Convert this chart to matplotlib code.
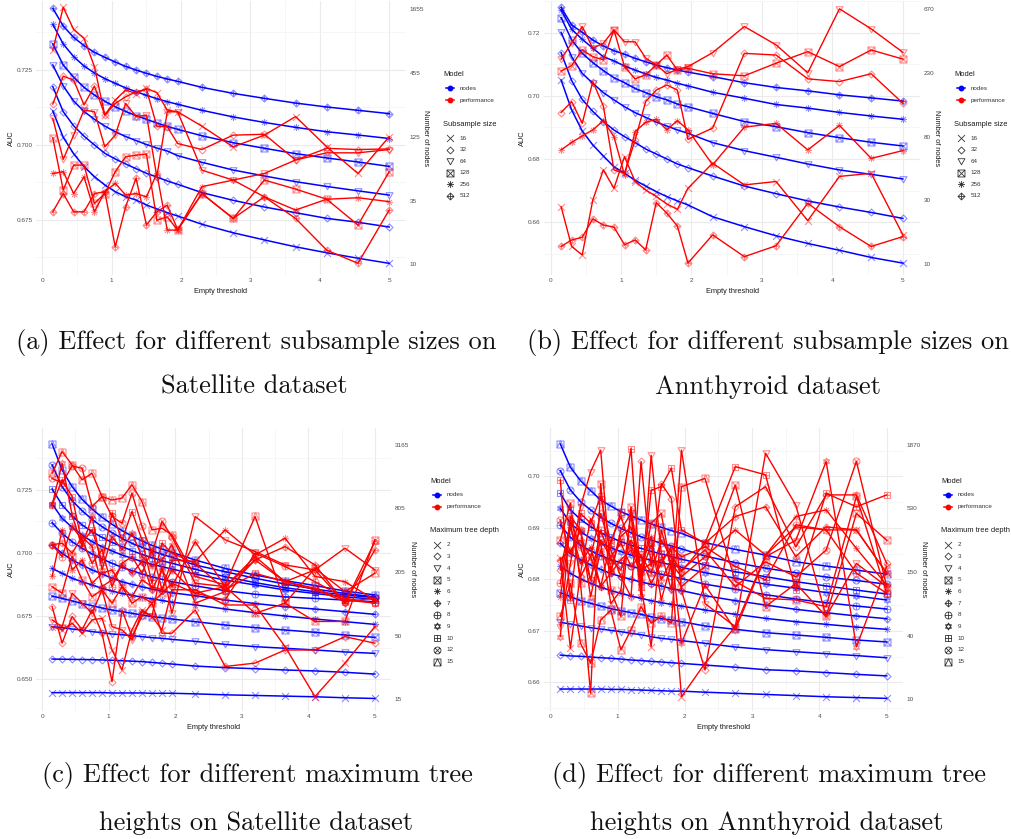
import numpy as np
import matplotlib.pyplot as plt
from matplotlib.path import Path
from matplotlib.ticker import NullLocator, NullFormatter

plt.rcParams['font.family'] = ['Liberation Sans', 'DejaVu Sans']

# x axis: empty threshold, shared by all four panels
thresholds = [0.15, 0.30, 0.45, 0.60, 0.75, 0.90, 1.05, 1.20, 1.35, 1.50,
              1.65, 1.80, 1.95, 2.30, 2.75, 3.20, 3.65, 4.10, 4.55, 5.00]

subsample_sizes = ["16", "32", "64", "128", "256", "512"]
tree_depths = ["2", "3", "4", "5", "6", "7", "8", "9", "10", "12", "15"]

# (a) Satellite, subsample size -- rows follow subsample_sizes
sat_sub_nodes = [
    [215, 127, 91.6, 70.6, 57.8, 48.9, 42.8, 38.7, 36.2, 32.8, 30.3, 28.1, 26.3, 22.3, 18.8, 16.3, 14.2, 12.6, 11.3, 10.2],
    [350, 212, 160, 130, 109, 92.2, 82.3, 74.5, 67.8, 61.8, 57.4, 53.0, 49.6, 42.0, 36.0, 31.5, 28.1, 25.1, 23.2, 21.1],
    [540, 355, 263, 213, 182, 159, 142, 129, 119, 110, 102.5, 96.6, 88.0, 77.0, 66.0, 58.6, 52.3, 47.5, 43.5, 40.0],
    [822, 540, 422, 345, 296, 261, 234, 213, 196, 182, 169, 158, 149, 131, 114, 102, 91.6, 84.0, 77.5, 71.0],
    [1218, 822, 638, 529, 460, 411, 374, 341, 317, 294, 275, 259, 246, 218, 191, 171, 155, 142, 133, 124],
    [1677, 1178, 939, 795, 695, 629, 573, 525, 488, 457, 430, 408, 389, 345, 306, 277, 252, 233, 218, 204],
]
sat_sub_auc = [
    [0.7316, 0.7459, 0.7385, 0.7355, 0.7261, 0.7099, 0.7149, 0.7183, 0.7171, 0.7188, 0.7174, 0.7116, 0.7110, 0.7062, 0.6993, 0.7032, 0.7094, 0.6993, 0.6904, 0.7027],
    [0.7136, 0.7229, 0.7216, 0.7133, 0.7196, 0.7099, 0.7138, 0.7160, 0.7177, 0.7185, 0.7062, 0.7060, 0.7004, 0.6984, 0.7032, 0.7035, 0.6949, 0.6988, 0.6984, 0.6986],
    [0.7088, 0.6951, 0.7032, 0.7116, 0.7110, 0.6993, 0.7032, 0.7138, 0.7094, 0.7099, 0.6893, 0.7110, 0.7110, 0.6915, 0.6882, 0.6904, 0.6949, 0.6973, 0.6973, 0.6984],
    [0.7023, 0.6849, 0.6932, 0.6932, 0.6804, 0.6837, 0.6910, 0.6960, 0.6965, 0.6969, 0.6748, 0.6759, 0.6715, 0.6837, 0.6754, 0.6882, 0.6852, 0.6818, 0.6732, 0.6910],
    [0.6904, 0.6910, 0.6837, 0.6893, 0.6776, 0.6843, 0.6871, 0.6832, 0.6837, 0.6826, 0.6904, 0.6715, 0.6715, 0.6860, 0.6882, 0.6826, 0.6782, 0.6818, 0.6823, 0.6810],
    [0.6776, 0.6837, 0.6776, 0.6776, 0.6837, 0.6843, 0.6659, 0.6793, 0.6888, 0.6732, 0.6776, 0.6798, 0.6717, 0.6837, 0.6754, 0.6826, 0.6754, 0.6648, 0.6604, 0.6782],
]

# (b) Annthyroid, subsample size
ann_sub_nodes = [
    [208, 127, 89.9, 71.4, 59.5, 49.9, 44.8, 39.9, 36.3, 33.1, 30.5, 28.4, 26.6, 21.9, 18.6, 16.0, 14.1, 12.6, 11.2, 10.2],
    [326, 206, 151, 124, 105, 91.4, 81.9, 74.2, 66.8, 61.5, 56.7, 52.2, 49.1, 42.8, 36.3, 32.0, 28.4, 25.7, 23.5, 21.3],
    [456, 305, 232, 197, 169, 150, 134, 121.5, 112.5, 104, 97.6, 91.4, 86.5, 74.2, 65.0, 58.3, 52.2, 47.3, 44.0, 40.8],
    [581, 402, 323, 277, 243, 216, 199, 181, 169, 158, 150, 140, 134, 120, 105, 96.5, 87.4, 80.5, 74.6, 70.2],
    [659, 479, 407, 351, 305, 285, 262, 245, 230, 217, 208, 197, 189, 170, 154, 139, 131, 122, 115, 109],
    [689, 515, 456, 402, 364, 337, 318, 297, 281, 266, 255, 245, 237, 220, 199, 184, 174, 163, 155, 147],
]
ann_sub_auc = [
    [0.6634, 0.6517, 0.6492, 0.6654, 0.6742, 0.6688, 0.6781, 0.6708, 0.6683, 0.6664, 0.6642, 0.6626, 0.6688, 0.6762, 0.6698, 0.6708, 0.6593, 0.6723, 0.6732, 0.6551],
    [0.6911, 0.6943, 0.6879, 0.7002, 0.6930, 0.6742, 0.6732, 0.6830, 0.6943, 0.6977, 0.6992, 0.6977, 0.6832, 0.6865, 0.7085, 0.7080, 0.7010, 0.7002, 0.7025, 0.6938],
    [0.7068, 0.7115, 0.7164, 0.7100, 0.7115, 0.7154, 0.7119, 0.7119, 0.7071, 0.7051, 0.7025, 0.7038, 0.7046, 0.7087, 0.7164, 0.7110, 0.7028, 0.7216, 0.7157, 0.7088],
    [0.7033, 0.7049, 0.7095, 0.7075, 0.7066, 0.7154, 0.7046, 0.7010, 0.7022, 0.7051, 0.7080, 0.7036, 0.7041, 0.7025, 0.7019, 0.7056, 0.7090, 0.7046, 0.7095, 0.7068],
    [0.6801, 0.6823, 0.6842, 0.6860, 0.6887, 0.6840, 0.6727, 0.6855, 0.6882, 0.6891, 0.6860, 0.6887, 0.6860, 0.6757, 0.6868, 0.6879, 0.6801, 0.6873, 0.6776, 0.6799],
    [0.6517, 0.6536, 0.6544, 0.6598, 0.6580, 0.6574, 0.6522, 0.6536, 0.6507, 0.6646, 0.6615, 0.6577, 0.6468, 0.6551, 0.6487, 0.6519, 0.6644, 0.6575, 0.6517, 0.6546],
]

# (c) Satellite, maximum tree depth -- rows follow tree_depths
sat_depth_nodes = [
    [15.3, 15.3, 15.3, 15.3, 15.3, 15.3, 15.2, 15.2, 15.2, 15.2, 15.1, 15.1, 15.1, 14.9, 14.6, 14.4, 14.2, 14.0, 13.7, 13.5],
    [31.5, 31.4, 31.3, 31.2, 31.1, 30.9, 30.7, 30.4, 30.1, 29.8, 29.3, 28.8, 28.3, 27.1, 26.2, 25.6, 24.9, 24.4, 23.7, 22.8],
    [63.2, 61.9, 60.1, 58.8, 56.8, 55.6, 54.0, 53.2, 52.1, 51.0, 49.9, 49.2, 48.1, 46.1, 43.2, 41.1, 39.7, 38.3, 36.7, 35.6],
    [122, 116, 110, 104, 99.3, 94.4, 90.4, 87.3, 84.2, 81.2, 78.4, 76.7, 74.5, 70.4, 65.5, 61.9, 58.8, 56.0, 52.8, 50.2],
    [221, 199, 179, 166, 155, 144, 136, 129, 124, 119, 115, 111, 107, 101, 92.4, 85.4, 79.5, 74.5, 70.4, 66.4],
    [366, 306, 265, 238, 214, 196, 179, 166, 157, 149, 142, 136, 131, 123, 112, 104, 97.2, 92.4, 87.3, 82.4],
    [591, 470, 393, 341, 302, 271, 247, 226, 211, 196, 185, 175, 166, 152, 137, 127, 120, 116, 112, 108],
    [884, 649, 535, 454, 393, 353, 322, 295, 275, 256, 241, 230, 218, 196, 172, 155, 139, 129, 120, 114],
    [1220, 865, 683, 563, 487, 431, 387, 353, 324, 299, 279, 261, 247, 217, 185, 163, 146, 134, 125, 118],
    [2044, 1282, 949, 765, 635, 543, 477, 422, 379, 348, 322, 299, 281, 238, 206, 179, 158, 142, 129, 120],
    [3210, 1835, 1282, 977, 793, 663, 571, 498, 444, 399, 363, 336, 313, 265, 221, 192, 170, 153, 136, 125],
]
sat_depth_auc = [
    [0.6736, 0.6724, 0.6749, 0.6711, 0.6762, 0.6768, 0.6647, 0.6571, 0.6724, 0.6800, 0.6775, 0.6724, 0.6877, 0.6877, 0.6819, 0.6819, 0.6660, 0.6469, 0.6597, 0.6736],
    [0.6813, 0.6673, 0.6775, 0.6724, 0.6800, 0.6711, 0.6526, 0.6800, 0.6698, 0.6775, 0.6826, 0.6711, 0.6711, 0.6800, 0.6584, 0.6597, 0.6647, 0.6647, 0.6698, 0.6673],
    [0.6762, 0.6736, 0.6864, 0.6826, 0.6787, 0.6877, 0.6736, 0.6724, 0.6686, 0.6794, 0.6775, 0.6966, 0.6787, 0.7157, 0.7068, 0.7023, 0.6972, 0.6953, 0.7036, 0.6953],
    [0.6889, 0.6864, 0.7004, 0.6915, 0.6851, 0.6877, 0.6826, 0.6889, 0.6826, 0.6851, 0.6826, 0.6864, 0.6902, 0.6864, 0.6889, 0.6787, 0.6826, 0.6756, 0.6756, 0.7068],
    [0.6928, 0.7106, 0.6953, 0.6991, 0.6902, 0.6940, 0.6953, 0.6889, 0.6851, 0.6915, 0.6889, 0.6877, 0.6991, 0.6985, 0.7106, 0.7010, 0.7074, 0.6928, 0.6908, 0.6838],
    [0.7049, 0.7055, 0.7017, 0.7080, 0.7042, 0.6889, 0.6915, 0.6972, 0.6940, 0.6985, 0.6877, 0.6953, 0.6889, 0.7061, 0.6889, 0.6991, 0.7042, 0.6972, 0.6826, 0.7030],
    [0.7049, 0.7004, 0.7119, 0.7068, 0.6978, 0.7030, 0.6889, 0.6978, 0.7004, 0.6940, 0.7030, 0.6877, 0.6953, 0.6864, 0.6838, 0.7017, 0.6966, 0.6908, 0.6845, 0.6826],
    [0.7201, 0.7360, 0.7163, 0.7042, 0.7157, 0.6953, 0.7080, 0.7030, 0.7093, 0.7004, 0.6966, 0.6991, 0.7049, 0.6826, 0.6870, 0.6991, 0.6908, 0.6953, 0.6826, 0.7061],
    [0.7201, 0.7297, 0.7233, 0.7055, 0.7106, 0.6985, 0.7170, 0.7068, 0.7176, 0.7068, 0.6902, 0.7055, 0.7017, 0.6978, 0.6877, 0.6940, 0.6908, 0.6883, 0.6838, 0.6826],
    [0.7303, 0.7284, 0.7350, 0.7341, 0.7195, 0.7233, 0.7157, 0.7131, 0.7246, 0.7119, 0.7017, 0.7138, 0.7080, 0.6902, 0.6889, 0.7004, 0.6908, 0.6877, 0.6832, 0.6845],
    [0.7322, 0.7405, 0.7354, 0.7297, 0.7322, 0.7233, 0.7220, 0.7227, 0.7278, 0.7214, 0.7106, 0.7112, 0.7087, 0.6928, 0.6896, 0.7157, 0.6826, 0.6959, 0.6870, 0.6940],
]

# (d) Annthyroid, maximum tree depth
ann_depth_nodes = [
    [14.8, 14.8, 14.8, 14.8, 14.8, 14.7, 14.7, 14.6, 14.5, 14.4, 14.3, 14.2, 14.2, 13.9, 13.6, 13.3, 13.0, 12.7, 12.5, 12.3],
    [29.0, 28.5, 28.3, 27.9, 27.5, 27.2, 26.8, 26.3, 26.0, 25.6, 25.3, 24.9, 24.6, 23.8, 22.8, 21.7, 21.2, 20.5, 19.8, 19.2],
    [55.4, 53.7, 51.6, 49.9, 48.6, 47.3, 46.1, 44.6, 43.4, 41.7, 40.4, 39.6, 38.6, 36.6, 34.0, 32.3, 31.0, 29.8, 28.7, 27.5],
    [100, 92.2, 85.2, 80.8, 76.6, 72.7, 69.9, 67.1, 65.0, 62.0, 59.6, 58.1, 56.2, 51.6, 48.3, 45.2, 43.2, 41.2, 39.1, 37.6],
    [169, 146, 131, 120, 111, 104, 98.5, 93.4, 89.2, 85.2, 81.8, 79.2, 76.6, 70.8, 65.0, 60.0, 56.2, 53.3, 50.5, 48.3],
    [265, 217, 191, 173, 158, 146, 137, 130, 123, 118, 114, 108, 104, 94.0, 85.2, 78.1, 71.7, 67.1, 62.9, 59.6],
    [381, 298, 256, 229, 208, 192, 180, 169, 159, 151, 144, 138, 132, 118, 107, 95.9, 88.0, 81.8, 76.6, 72.2],
    [530, 394, 334, 293, 265, 243, 225, 210, 200, 189, 181, 173, 165, 148, 133, 118, 109, 100, 93.4, 86.3],
    [713, 513, 426, 369, 327, 298, 274, 255, 240, 226, 215, 203, 194, 173, 151, 137, 124, 114, 105, 97.2],
    [1117, 762, 605, 513, 444, 394, 357, 327, 302, 283, 265, 251, 238, 206, 181, 162, 148, 136, 127, 118],
    [1895, 1194, 917, 752, 625, 555, 496, 455, 421, 389, 364, 341, 323, 269, 235, 210, 184, 169, 156, 144],
]
ann_depth_auc = [
    [0.6841, 0.6666, 0.6812, 0.6918, 0.6870, 0.6753, 0.6779, 0.6928, 0.6786, 0.6669, 0.6896, 0.6825, 0.6572, 0.6637, 0.6708, 0.6847, 0.6902, 0.6896, 0.6896, 0.6812],
    [0.6818, 0.6909, 0.6805, 0.6844, 0.6928, 0.6857, 0.6805, 0.6766, 0.7029, 0.6825, 0.6986, 0.6957, 0.6779, 0.6624, 0.6941, 0.6980, 0.6863, 0.6964, 0.6964, 0.6831],
    [0.6708, 0.6831, 0.6941, 0.7009, 0.7051, 0.6812, 0.6896, 0.6928, 0.6766, 0.7041, 0.6851, 0.6779, 0.7051, 0.6753, 0.6708, 0.7045, 0.6944, 0.6728, 0.6831, 0.6786],
    [0.6876, 0.6948, 0.6792, 0.6579, 0.6986, 0.6779, 0.6728, 0.6941, 0.6805, 0.6909, 0.6928, 0.6818, 0.6786, 0.6825, 0.6983, 0.6747, 0.6792, 0.6728, 0.6928, 0.6876],
    [0.6766, 0.6902, 0.6831, 0.6863, 0.6786, 0.6873, 0.6922, 0.6863, 0.6825, 0.6883, 0.6760, 0.6831, 0.6805, 0.6844, 0.6896, 0.6847, 0.6922, 0.6935, 0.6860, 0.6789],
    [0.6838, 0.6857, 0.6876, 0.6844, 0.6786, 0.6812, 0.6838, 0.6857, 0.6812, 0.6867, 0.6799, 0.6838, 0.6815, 0.6870, 0.6922, 0.6941, 0.6844, 0.6902, 0.6896, 0.6812],
    [0.6792, 0.6915, 0.6863, 0.6799, 0.6896, 0.6838, 0.6818, 0.6876, 0.6844, 0.6792, 0.6831, 0.6863, 0.6844, 0.6863, 0.6825, 0.6799, 0.6906, 0.6896, 0.6812, 0.6773],
    [0.6689, 0.6922, 0.6896, 0.6766, 0.6857, 0.6818, 0.6883, 0.6902, 0.6818, 0.6831, 0.6838, 0.6857, 0.6676, 0.6789, 0.6702, 0.6844, 0.6876, 0.7029, 0.6669, 0.6825],
    [0.6993, 0.6760, 0.6928, 0.6909, 0.6961, 0.6870, 0.6931, 0.7054, 0.6786, 0.6973, 0.6980, 0.7016, 0.6896, 0.6870, 0.7019, 0.7003, 0.6779, 0.6967, 0.6941, 0.6964],
    [0.6915, 0.6851, 0.6896, 0.6799, 0.6876, 0.6844, 0.6870, 0.6825, 0.6847, 0.6812, 0.6876, 0.6844, 0.6818, 0.6857, 0.6786, 0.6834, 0.6805, 0.6857, 0.7029, 0.6786],
    [0.6728, 0.6792, 0.6676, 0.6637, 0.6721, 0.6740, 0.6663, 0.6702, 0.6747, 0.6715, 0.6728, 0.6715, 0.6980, 0.6996, 0.6796, 0.6763, 0.6760, 0.6747, 0.6961, 0.6773],
]

# right-axis tick labels (number of nodes, log spaced, rounded)
sat_sub_node_labels = ["10", "35", "125", "455", "1655"]
ann_sub_node_labels = ["10", "30", "80", "230", "670"]
sat_depth_node_labels = ["15", "50", "205", "805", "3165"]
ann_depth_node_labels = ["10", "40", "150", "530", "1870"]

BLUE = '#0000FF'
RED = '#FF0000'
GREY = '#4D4D4D'


# ---- marker shapes (R pch 4..14) ----
def seg(*pts):
    return Path(pts, [Path.MOVETO] + [Path.LINETO] * (len(pts) - 1))


def closed(*pts):
    return Path(list(pts) + [pts[0]],
                [Path.MOVETO] + [Path.LINETO] * (len(pts) - 1) + [Path.CLOSEPOLY])


def scaled(p, s):
    return Path(p.vertices * s, p.codes)


CROSS = Path.make_compound_path(seg((-1, -1), (1, 1)), seg((-1, 1), (1, -1)))
PLUS = Path.make_compound_path(seg((-1, 0), (1, 0)), seg((0, -1), (0, 1)))
SQUARE = closed((-1, -1), (1, -1), (1, 1), (-1, 1))
DIAMOND = closed((0, -1), (1, 0), (0, 1), (-1, 0))
TRI_DOWN = closed((-1, 0.8), (1, 0.8), (0, -0.95))
CIRCLE = Path.unit_circle()
STAR_UP = closed((0, 1), (-0.866, -0.5), (0.866, -0.5))
STAR_DN = closed((0, -1), (-0.866, 0.5), (0.866, 0.5))

SHAPES = {
    4: CROSS,
    5: DIAMOND,
    6: TRI_DOWN,
    7: Path.make_compound_path(SQUARE, CROSS),
    8: Path.make_compound_path(PLUS, scaled(CROSS, 0.72)),
    9: Path.make_compound_path(DIAMOND, PLUS),
    10: Path.make_compound_path(CIRCLE, PLUS),
    11: Path.make_compound_path(STAR_UP, STAR_DN),
    12: Path.make_compound_path(SQUARE, PLUS),
    13: Path.make_compound_path(CIRCLE, scaled(CROSS, 0.72)),
    14: Path.make_compound_path(SQUARE, seg((-1, -1), (0, 1), (1, -1))),
}

sub_shapes = [4, 5, 6, 7, 8, 9]
depth_shapes = [4, 5, 6, 7, 8, 9, 10, 11, 12, 13, 14]

W, H = 1011, 839
fig = plt.figure(figsize=(W / 100, H / 100), dpi=100)


def rect(l, t, r, b):
    return [l / W, 1 - b / H, (r - l) / W, (b - t) / H]


def draw_panel(box, auc_rows, node_rows, shapes, auc_lim, auc_ticks, fmt,
               node_lim, node_span, node_labels, ylab_x, rlab_x, xlab_y):
    ax = fig.add_axes(rect(*box))
    lo, hi = min(thresholds), max(thresholds)
    pad = 0.05 * (hi - lo)
    ax.set_xlim(lo - pad, hi + pad)
    ax.set_ylim(*auc_lim)
    ax.set_xticks(range(6))
    ax.set_xticks(np.arange(0.5, 5, 1), minor=True)
    step = auc_ticks[1] - auc_ticks[0]
    ax.set_yticks(auc_ticks)
    ax.set_yticklabels([fmt.format(t) for t in auc_ticks])
    ax.set_yticks(np.arange(auc_ticks[0] - step / 2, auc_ticks[-1] + step, step), minor=True)
    ax.grid(which='major', color='#EBEBEB', lw=0.8)
    ax.grid(which='minor', color='#F3F3F3', lw=0.5)
    ax.tick_params(which='both', length=0, labelsize=4.6, labelcolor=GREY, pad=2.5)
    for s in ax.spines.values():
        s.set_visible(False)
    ax.set_xlabel('Empty threshold', fontsize=5.3, va='center', color='#1A1A1A')
    ax.xaxis.set_label_coords(0.5, xlab_y)
    ax.set_ylabel('AUC', fontsize=5.3, va='center', color='#1A1A1A')
    ax.yaxis.set_label_coords(ylab_x, 0.5)

    # number of nodes on the secondary (log) axis
    ax2 = ax.twinx()
    ax2.set_yscale('log')
    ax2.set_ylim(*node_lim)
    ax2.set_yticks(np.geomspace(node_span[0], node_span[1], 5))
    ax2.set_yticklabels(node_labels)
    ax2.yaxis.set_minor_locator(NullLocator())
    ax2.yaxis.set_minor_formatter(NullFormatter())
    ax2.tick_params(which='both', length=0, labelsize=4.6, labelcolor=GREY, pad=2.5)
    for s in ax2.spines.values():
        s.set_visible(False)
    ax2.set_ylabel('Number of nodes', fontsize=5.3, rotation=270, va='center', color='#1A1A1A')
    ax2.yaxis.set_label_coords(rlab_x, 0.5)
    for row, sid in zip(node_rows, shapes):
        ax2.plot(thresholds, row, color=BLUE, lw=1.1)
        ax2.plot(thresholds, row, ls='none', marker=SHAPES[sid], ms=5,
                 mfc='none', mec=(0, 0, 1, 0.45), mew=0.8)

    # performance on top
    ax3 = ax.twinx()
    ax3.set_ylim(*auc_lim)
    ax3.set_yticks([])
    for s in ax3.spines.values():
        s.set_visible(False)
    for row, sid in zip(auc_rows, shapes):
        ax3.plot(thresholds, row, color=RED, lw=1.0)
        ax3.plot(thresholds, row, ls='none', marker=SHAPES[sid], ms=5,
                 mfc='none', mec=(1, 0, 0, 0.45), mew=0.8)


draw_panel((36, 1, 406, 275), sat_sub_auc, sat_sub_nodes, sub_shapes,
           (0.6565, 0.7480), [0.675, 0.700, 0.725], '{:.3f}',
           (8.08, 1942), (10, 1655), sat_sub_node_labels, -0.065, 1.054, -0.062)
draw_panel((544, 1, 920, 275), ann_sub_auc, ann_sub_nodes, sub_shapes,
           (0.6433, 0.7239), [0.66, 0.68, 0.70, 0.72], '{:.2f}',
           (8.39, 764), (10, 670), ann_sub_node_labels, -0.056, 1.044, -0.062)
draw_panel((36, 428, 391, 711), sat_depth_auc, sat_depth_nodes, depth_shapes,
           (0.6414, 0.7495), [0.650, 0.675, 0.700, 0.725], '{:.3f}',
           (10.31, 4528), (13.25, 3165), sat_depth_node_labels, -0.068, 1.061, -0.057)
draw_panel((544, 428, 903, 711), ann_depth_auc, ann_depth_nodes, depth_shapes,
           (0.65444, 0.70939), [0.66, 0.67, 0.68, 0.69, 0.70], '{:.2f}',
           (9.58, 2601), (12.07, 1870), ann_depth_node_labels, -0.059, 1.056, -0.057)

# overlay in pixel coordinates for legends and captions
ov = fig.add_axes([0, 0, 1, 1])
ov.set_autoscale_on(False)
ov.set_xlim(0, W)
ov.set_ylim(H, 0)
ov.axis('off')


def draw_legend(x0, y0, title2, labels, shapes, step):
    ov.text(x0, y0, 'Model', fontsize=5.4, va='center', color='#1A1A1A')
    for i, (name, col) in enumerate([('nodes', BLUE), ('performance', RED)]):
        y = y0 + 13.3 + 12 * i
        ov.plot([x0 + 3, x0 + 11], [y, y], color=col, lw=1.1)
        ov.plot([x0 + 7], [y], 'o', color=col, ms=3.2)
        ov.text(x0 + 16.5, y, name, fontsize=4.5, va='center', color='#333333')
    ov.text(x0, y0 + 49, title2, fontsize=5.4, va='center', color='#1A1A1A')
    for i, (lab, sid) in enumerate(zip(labels, shapes)):
        y = y0 + 63.3 + step * i
        ov.plot([x0 + 6.5], [y], ls='none', marker=SHAPES[sid], ms=5,
                mfc='none', mec='#333333', mew=0.6)
        ov.text(x0 + 16.5, y, lab, fontsize=4.5, va='center', color='#333333')


draw_legend(443, 75, 'Subsample size', subsample_sizes, sub_shapes, 11.5)
draw_legend(954, 75, 'Subsample size', subsample_sizes, sub_shapes, 11.5)
draw_legend(430, 481.5, 'Maximum tree depth', tree_depths, depth_shapes, 11.67)
draw_legend(941, 481.5, 'Maximum tree depth', tree_depths, depth_shapes, 11.67)

captions = [
    (256, 349, "(a) Effect for different subsample sizes on"),
    (254, 394, "Satellite dataset"),
    (768, 349, "(b) Effect for different subsample sizes on"),
    (768, 394, "Annthyroid dataset"),
    (257, 782, "(c) Effect for different maximum tree"),
    (256, 830, "heights on Satellite dataset"),
    (769, 782, "(d) Effect for different maximum tree"),
    (767, 830, "heights on Annthyroid dataset"),
]
for cx, cy, txt in captions:
    ov.text(cx, cy, txt, ha='center', va='baseline', fontsize=19.0,
            family='cmr10', color='#111111')

fig.savefig('out.png', dpi=100)
